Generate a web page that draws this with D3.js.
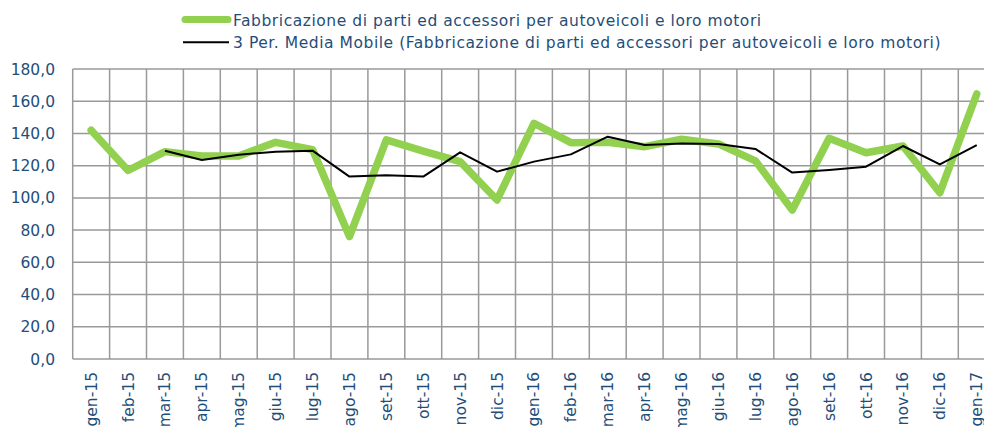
<!DOCTYPE html>
<html>
  <head>
    <script src="https://d3js.org/d3.v7.min.js"></script>
    <style>
      body { margin: 0; background: white; overflow: hidden; }
      text { font-family: "DejaVu Sans", sans-serif; fill: #1f4e79; }
    </style>
  </head>
  <body>
    <script>
      const months = ['gen-15','feb-15','mar-15','apr-15','mag-15','giu-15','lug-15','ago-15','set-15','ott-15','nov-15','dic-15',
                      'gen-16','feb-16','mar-16','apr-16','mag-16','giu-16','lug-16','ago-16','set-16','ott-16','nov-16','dic-16','gen-17'];
      const production = [142.0, 117.0, 128.7, 126.0, 126.0, 134.5, 130.0, 76.0, 136.0, 129.0, 122.5, 98.7,
                          146.3, 134.3, 134.5, 131.8, 136.4, 133.5, 123.0, 92.5, 137.0, 128.0, 132.2, 103.2, 164.5];
      const movingAvg = [null, null, 129.3, 123.5, 126.8, 128.7, 129.3, 113.2, 114.0, 113.2, 128.3, 116.3,
                         122.5, 127.0, 138.0, 132.8, 133.8, 133.5, 130.4, 115.7, 117.3, 119.4, 132.2, 120.8, 132.8];
      const yTicks = [0, 20, 40, 60, 80, 100, 120, 140, 160, 180];
      const legendLabels = ['Fabbricazione di parti ed accessori per autoveicoli e loro motori',
                            '3 Per. Media Mobile (Fabbricazione di parti ed accessori per autoveicoli e loro motori)'];

      const w = 984, h = 427;
      const plotLeft = 72.7, plotTop = 69, plotBottom = 359;
      const band = 36.9;

      const svg = d3.select('body').append('svg').attr('width', w).attr('height', h);

      const x = d3.scaleBand().domain(months).range([plotLeft, plotLeft + band * months.length]);
      const y = d3.scaleLinear().domain([0, 180]).range([plotBottom, plotTop]);

      // grid
      svg.selectAll('.hgrid').data(yTicks).enter().append('line')
         .attr('x1', plotLeft).attr('x2', plotLeft + band * months.length)
         .attr('y1', d => y(d)).attr('y2', d => y(d))
         .style('stroke', '#999').style('stroke-width', 1.5);
      svg.selectAll('.vgrid').data(months.concat(['end'])).enter().append('line')
         .attr('x1', (d, i) => plotLeft + i * band).attr('x2', (d, i) => plotLeft + i * band)
         .attr('y1', plotTop).attr('y2', plotBottom)
         .style('stroke', '#999').style('stroke-width', 1.5);

      // y labels
      svg.selectAll('.ylab').data(yTicks).enter().append('text')
         .attr('x', 55).attr('y', d => y(d) + 5.5)
         .attr('text-anchor', 'end')
         .style('font-size', '15.5px')
         .text(d => d3.format('.1f')(d).replace('.', ','));

      // x labels
      svg.selectAll('.xlab').data(months).enter().append('text')
         .attr('transform', d => `translate(${x(d) + x.bandwidth() / 2 + 5.5},${372}) rotate(-90)`)
         .attr('text-anchor', 'end')
         .style('font-size', '15.5px')
         .text(d => d);

      const line = d3.line()
        .defined(d => d != null)
        .x((d, i) => x(months[i]) + x.bandwidth() / 2)
        .y(d => y(d));

      svg.append('path').datum(production)
         .attr('d', line)
         .style('fill', 'none').style('stroke', '#92d050').style('stroke-width', 7.5)
         .style('stroke-linejoin', 'round').style('stroke-linecap', 'round');

      svg.append('path').datum(movingAvg)
         .attr('d', line)
         .style('fill', 'none').style('stroke', '#000').style('stroke-width', 2)
         .style('stroke-linejoin', 'round');

      // legend
      const legend = svg.append('g');
      legend.append('line').attr('x1', 185).attr('x2', 228).attr('y1', 19.5).attr('y2', 19.5)
            .style('stroke', '#92d050').style('stroke-width', 7).style('stroke-linecap', 'round');
      legend.append('line').attr('x1', 183).attr('x2', 229).attr('y1', 42.3).attr('y2', 42.3)
            .style('stroke', '#000').style('stroke-width', 2);
      legend.selectAll('text').data(legendLabels).enter().append('text')
            .attr('x', 233).attr('y', (d, i) => 25.7 + i * 22.6)
            .style('font-size', '15.5px')
            .style('letter-spacing', '0.55px')
            .text(d => d);
    </script>
  </body>
</html>
